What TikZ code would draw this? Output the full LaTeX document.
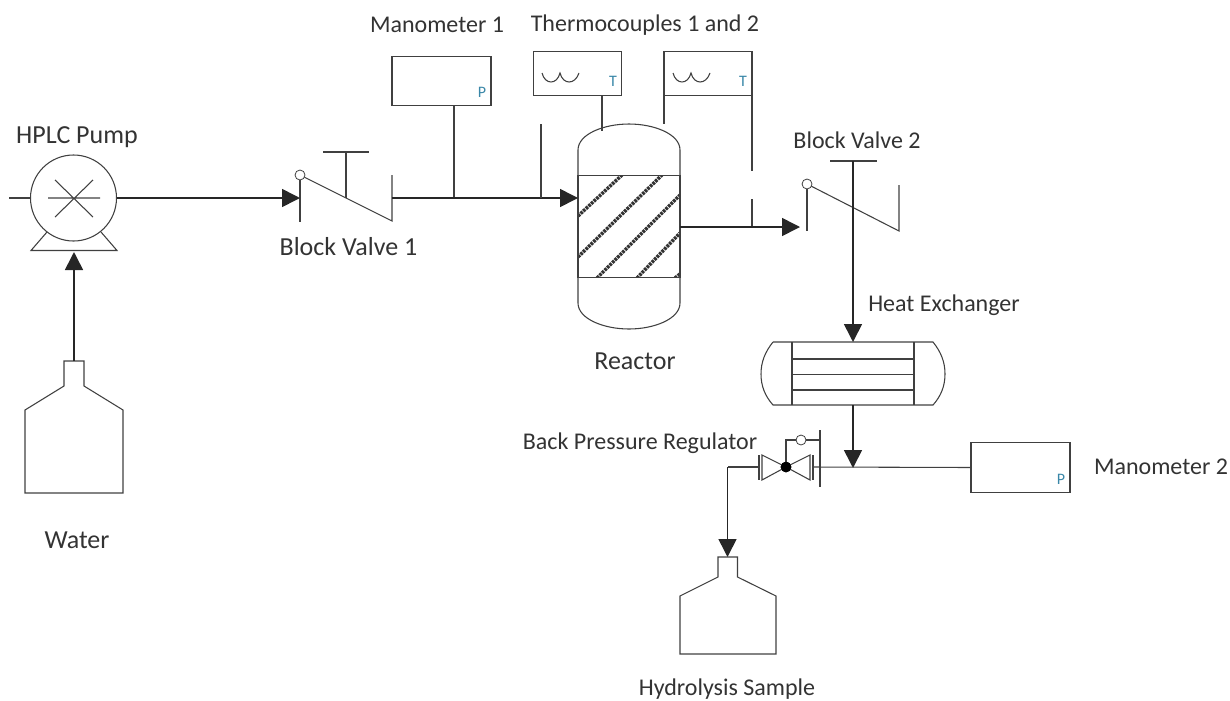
\documentclass[tikz,border=0pt]{standalone}
\usepackage{fontspec}
\setmainfont{Carlito}
\usetikzlibrary{arrows.meta}
\definecolor{pipegray}{HTML}{404040}
\definecolor{txtgray}{HTML}{333333}
\definecolor{tagblue}{HTML}{3A87A8}
\tikzset{
  pipe/.style={line width=0.8pt,color=pipegray},
  flow/.style={line width=1.2pt,color=black!85,-{Triangle[length=13.5pt,width=13.5pt]}},
  lbl/.style={font=\fontsize{18}{22}\selectfont,text=txtgray,inner sep=0pt},
  biglbl/.style={font=\fontsize{19.5}{23}\selectfont,text=txtgray,inner sep=0pt},
  tag/.style={font=\fontsize{12}{14}\selectfont,text=tagblue,inner sep=0pt},
  gaugebox/.style={draw=pipegray,line width=0.8pt,minimum width=74.25pt,minimum height=37pt,inner sep=0pt,outer sep=0pt},
  tcbox/.style={draw=pipegray,line width=0.8pt,minimum width=66pt,minimum height=33.5pt,inner sep=0pt,outer sep=0pt},
  bedbox/.style={draw=pipegray,line width=0.8pt,minimum width=76.5pt,minimum height=77pt,inner sep=0pt,outer sep=0pt},
  pumpbody/.style={circle,draw=pipegray,line width=0.8pt,minimum size=64.5pt,inner sep=0pt,outer sep=0pt},
  hinge/.style={circle,draw=pipegray,fill=white,line width=0.6pt,minimum size=7.5pt,inner sep=0pt,outer sep=0pt},
  seat/.style={circle,fill=black,minimum size=8pt,inner sep=0pt,outer sep=0pt},
  }

\begin{document}
\begin{tikzpicture}[x=0.75pt,y=-0.75pt]
  \useasboundingbox (0,0) rectangle (1230,700);

  % pump
  \node[pumpbody] (pump) at (73.5,198) {};
  \coordinate (pumpin) at (9,198);
  \draw[pipe] (pumpin)--(pump.west);
  \draw[pipe] (47,232)--(31,250.5)--(117,250.5)--(101,232);
  \draw[pipe] (48,198)--(100,198) (55,180)--(93,217) (55,217)--(93,180);

  % water bottle
  \coordinate (waterneck) at (74,361);
  \draw[pipe] (64,361)--(84,361)--(84,386)--(123,410)--(123,493)--(25,493)--(25,410)--(64,386)--cycle;
  \coordinate (pumpfoot) at (74,252);
  \draw[flow] (waterneck)--(pumpfoot);

  % block valve 1
  \node[hinge] (hv1) at (300,175) {};
  \coordinate (v1in) at (300,198);
  \coordinate (v1out) at (392,198);
  \coordinate (v1stem) at (346,198);
  \draw[pipe] (hv1)--(300,222);
  \draw[pipe] (hv1)--(392,221)--(392,175);
  \draw[pipe] (v1stem)--(346,152) (323,152)--(369,152);
  \draw[flow] (pump.east)--(v1in);

  % manometer 1
  \node[gaugebox] (man1) at (441.5,81) {};
  \node[tag] (ptag1) at (482,92) {P};
  \coordinate (man1tee) at (454,198);
  \draw[pipe] (man1.south -| man1tee)--(man1tee);

  % reactor
  \node[bedbox] (bed) at (629,226.5) {};
  \begin{scope}
    \clip (bed.south west) rectangle (bed.north east);
    \foreach \xa/\ya/\xb/\yb in {578/216/622/175, 578/257/662/175, 597/278/680/195, 637/278/680/233, 675/278/680/274}
      \draw[line width=2.6pt,color=black!80,dash pattern=on 2pt off 0.7pt] (\xa,\ya)--(\xb,\yb);
  \end{scope}
  \draw[pipe] (bed.north west)--(578,150) .. controls (578,134) and (604,124) .. (629,124)
     .. controls (654,124) and (680,134) .. (680,150)--(bed.north east);
  \draw[pipe] (bed.south west)--(578,303) .. controls (578,319) and (604,329) .. (629,329)
     .. controls (654,329) and (680,319) .. (680,303)--(bed.south east);
  \draw[pipe] (bed.north west)--(bed.north east) (bed.south west)--(bed.south east) (bed.north west)--(bed.south west) (bed.north east)--(bed.south east);
  \coordinate (bedin) at (578,198);
  \coordinate (stub) at (541,124);
  \coordinate (stubtee) at (541,198);
  \draw[flow] (v1out)--(bedin);
  \draw[pipe] (stubtee)--(stub);

  % thermocouples
  \node[tcbox] (tc1) at (577.5,73.5) {};
  \node[tcbox] (tc2) at (708,73.5) {};
  \foreach \bx in {542,673}
    \draw[pipe] (\bx,73) .. controls (\bx+3,85) and (\bx+15,85) .. (\bx+18,73)
       .. controls (\bx+21,85) and (\bx+33,85) .. (\bx+37,73);
  \node[tag] (ttag1) at (613,81) {T};
  \node[tag] (ttag2) at (743,81) {T};
  \coordinate (tc1end) at (602,131);
  \coordinate (tc2left) at (664,124);
  \coordinate (tc2right) at (752,171);
  \coordinate (tc2tee) at (752,227);
  \coordinate (tc2low) at (752,199);
  \draw[pipe] (tc1.south -| tc1end)--(tc1end);
  \draw[pipe] (tc2.south west)--(tc2left);
  \draw[pipe] (tc2.south east)--(tc2right);
  \draw[pipe] (tc2low)--(tc2tee);

  % block valve 2
  \node[hinge] (hv2) at (807,184) {};
  \coordinate (v2in) at (800,227);
  \coordinate (v2top) at (853,161);
  \draw[pipe] (hv2)--(807,231);
  \draw[pipe] (hv2)--(899,231)--(899,185);
  \draw[pipe] (830,161)--(877,161);
  \draw[flow] (bed.east |- v2in)--(v2in);

  % heat exchanger
  \coordinate (hxtop) at (853,342);
  \coordinate (hxbot) at (853,405);
  \draw[pipe] (773,342)--(933,342) .. controls (941,352) and (945,362) .. (945,374)
     .. controls (945,386) and (941,396) .. (933,405)--(773,405)
     .. controls (765,396) and (761,386) .. (761,374) .. controls (761,362) and (765,352) .. (773,342);
  \draw[pipe] (792,342)--(792,405) (914,342)--(914,405);
  \draw[pipe] (792,359)--(914,359) (792,374.5)--(914,374.5) (792,390)--(914,390);
  \draw[flow] (v2top)--(hxtop);

  % manometer 2 and outlet line
  \node[gaugebox] (man2) at (1020.5,467.5) {};
  \node[tag] (ptag2) at (1061,479) {P};
  \coordinate (hxtee) at (853,468);
  \coordinate (bprright) at (813,467);
  \draw[flow] (hxbot)--(hxtee);
  \draw[pipe] (bprright)--(man2.west);

  % back pressure regulator
  \node[seat] (bpr) at (786,467) {};
  \node[hinge] (pilot) at (801,440) {};
  \coordinate (bprleft) at (759,467);
  \coordinate (bend) at (727.5,467);
  \draw[pipe] (bpr.center)--(762,455)--(762,480)--cycle;
  \draw[pipe] (bpr.center)--(810,455)--(810,480)--cycle;
  \draw[pipe] (759,455)--(759,480) (813,455)--(813,480);
  \draw[pipe] (820,430)--(820,487);
  \draw[pipe] (bpr.center)--(786,440)--(pilot);
  \draw[pipe] (pilot)--(820,440);
  \node[seat] at (bpr) {};

  % sample bottle
  \coordinate (sampleneck) at (727.5,557);
  \draw[pipe] (bprleft)--(bend);
  \draw[flow] (bend)--(sampleneck);
  \draw[pipe] (718,557)--(737.5,557)--(737.5,577)--(776,596)--(776,654)--(680,654)--(680,596)--(718,577)--cycle;

  % labels
  \node[biglbl] (lpump) at (77,137) {HPLC Pump};
  \node[lbl] (lman1) at (437,25) {Manometer 1};
  \node[lbl] (ltc) at (645,25) {Thermocouples 1 and 2};
  \node[biglbl] (lv1) at (348.5,247) {Block Valve 1};
  \node[lbl] (lv2) at (857,140) {Block Valve 2};
  \node[biglbl] (lreact) at (635,361) {Reactor};
  \node[lbl] (lhx) at (944,305) {Heat Exchanger};
  \node[lbl] (lbpr) at (640,443) {Back Pressure Regulator};
  \node[lbl] (lman2) at (1161,467) {Manometer 2};
  \node[biglbl] (lwater) at (77,540) {Water};
  \node[lbl] (lsample) at (727,689) {Hydrolysis Sample};
\end{tikzpicture}
\end{document}
